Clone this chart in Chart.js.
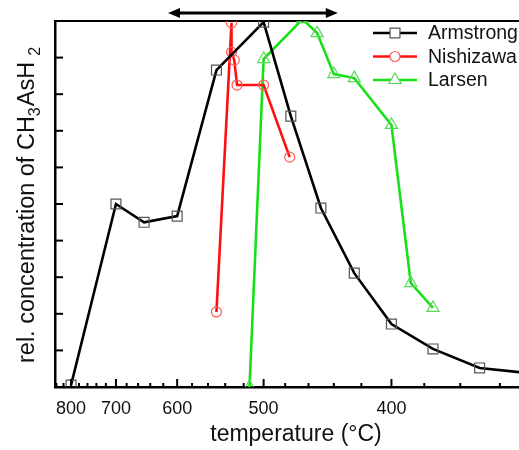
<!DOCTYPE html>
<html lang="en">
<head>
  <meta charset="UTF-8">
  <title>Relative concentration of CH3AsH2</title>
  <style>
    html, body { margin: 0; padding: 0; background: #ffffff; }
    #wrap { width: 519px; height: 450px; }
  </style>
  <script src="https://cdn.jsdelivr.net/npm/chart.js"></script>
</head>
<body>
  <div id="wrap"><canvas id="chart" width="519" height="450"></canvas></div>

  <script>
    // temperatures in °C, values in relative units (axis 0..10)
    const armstrongTemp = [800, 700, 650, 600, 550, 500, 475, 450, 425, 400, 375, 350, 325];
    const armstrongVal  = [0.05, 5.0, 4.5, 4.67, 8.66, 9.97, 7.4, 4.89, 3.11, 1.72, 1.04, 0.52, 0.37];

    const nishizawaTemp = [550, 533, 533, 530, 527, 500, 476];
    const nishizawaVal  = [2.05, 9.95, 9.15, 8.93, 8.25, 8.25, 6.28];

    const larsenTemp = [514, 500, 465, 453, 440, 425, 400, 388, 375];
    const larsenVal  = [0, 8.96, 10.05, 9.67, 8.55, 8.44, 7.16, 2.84, 2.16];

    const majorTicks = [800, 700, 600, 500, 400];
    const minorStep = 20;
    const xLeftTemp = 844;
    const xRightTemp = 331;
    const arrowTemps = [613, 437];

    // the temperature axis is linear in 1/T^2 (T in kelvin)
    function toAxis(t) { return 1e6 / Math.pow(t + 273, 2); }
    function fromAxis(u) { return Math.sqrt(1e6 / u) - 273; }

    function points(temps, vals) {
      return temps.map((t, i) => ({ x: toAxis(t), y: vals[i] }));
    }

    const series = [
      { label: 'Armstrong', temps: armstrongTemp, vals: armstrongVal, line: '#000000', mark: '#555555', style: 'rect', radius: 7 },
      { label: 'Nishizawa', temps: nishizawaTemp, vals: nishizawaVal, line: '#ff1010', mark: '#ff5a5a', style: 'circle', radius: 5 },
      { label: 'Larsen', temps: larsenTemp, vals: larsenVal, line: '#18e018', mark: '#5ad85a', style: 'triangle', radius: 7 }
    ];

    const decorations = {
      id: 'decorations',
      afterDraw(chart) {
        const ctx = chart.ctx;
        const area = chart.chartArea;
        const xs = chart.scales.x;
        const ys = chart.scales.y;
        ctx.save();
        ctx.strokeStyle = '#000';
        ctx.lineWidth = 2;

        // inward tick marks on the temperature axis
        for (let t = 840; t >= 320; t -= minorStep) {
          const px = xs.getPixelForValue(toAxis(t));
          if (px < area.left + 1 || px > area.right) continue;
          const len = t % 100 === 0 ? 8 : 4;
          ctx.beginPath();
          ctx.moveTo(px, area.bottom);
          ctx.lineTo(px, area.bottom - len);
          ctx.stroke();
        }
        // inward tick marks on the value axis
        for (let v = 1; v < 10; v++) {
          const py = ys.getPixelForValue(v);
          ctx.beginPath();
          ctx.moveTo(area.left, py);
          ctx.lineTo(area.left + 8, py);
          ctx.stroke();
        }

        // double arrow above the plot
        const ax1 = xs.getPixelForValue(toAxis(arrowTemps[0]));
        const ax2 = xs.getPixelForValue(toAxis(arrowTemps[1]));
        const ay = 13;
        ctx.lineWidth = 3;
        ctx.beginPath();
        ctx.moveTo(ax1 + 8, ay);
        ctx.lineTo(ax2 - 8, ay);
        ctx.stroke();
        ctx.fillStyle = '#000';
        ctx.beginPath();
        ctx.moveTo(ax1, ay); ctx.lineTo(ax1 + 12, ay - 5); ctx.lineTo(ax1 + 12, ay + 5); ctx.closePath();
        ctx.fill();
        ctx.beginPath();
        ctx.moveTo(ax2, ay); ctx.lineTo(ax2 - 12, ay - 5); ctx.lineTo(ax2 - 12, ay + 5); ctx.closePath();
        ctx.fill();

        // legend inside the plot, top right
        ctx.font = '19.5px "Liberation Sans", Arial, sans-serif';
        ctx.textBaseline = 'middle';
        series.forEach((s, i) => {
          const ly = 33 + i * 23.5;
          ctx.strokeStyle = s.line;
          ctx.lineWidth = 2.5;
          ctx.beginPath();
          ctx.moveTo(373, ly);
          ctx.lineTo(417, ly);
          ctx.stroke();
          ctx.fillStyle = '#ffffff';
          ctx.strokeStyle = s.mark;
          ctx.lineWidth = 1.2;
          Chart.helpers.drawPoint(ctx, {
            pointStyle: s.style, radius: s.radius, rotation: 0, borderWidth: 1.2
          }, 395, ly);
          ctx.fillStyle = '#111';
          ctx.fillText(s.label, 428, ly + 1);
        });

        // x axis title
        ctx.fillStyle = '#111';
        ctx.textBaseline = 'alphabetic';
        ctx.textAlign = 'center';
        ctx.font = '23px "Liberation Sans", Arial, sans-serif';
        ctx.fillText('temperature (°C)', 296, 441);

        // y axis title with subscripts, rotated
        ctx.translate(34, 363);
        ctx.rotate(-Math.PI / 2);
        ctx.textAlign = 'left';
        const parts = [['rel. concentration of CH', false], ['3', true], ['AsH', false], ['2', true]];
        let tx = 0;
        parts.forEach(([txt, sub]) => {
          ctx.font = (sub ? '16px' : '23.5px') + ' "Liberation Sans", Arial, sans-serif';
          if (sub && txt === '2') tx += 6;
          ctx.fillText(txt, tx, sub ? 6 : 0);
          tx += ctx.measureText(txt).width + (sub ? 1 : 0);
        });
        ctx.restore();
      }
    };

    const ctx = document.getElementById('chart').getContext('2d');
    new Chart(ctx, {
      type: 'line',
      data: {
        datasets: series.map(s => ({
          label: s.label,
          data: points(s.temps, s.vals),
          borderColor: s.line,
          borderWidth: 2.6,
          tension: 0,
          fill: false,
          pointStyle: s.style,
          pointRadius: s.radius,
          pointBorderColor: s.mark,
          pointBackgroundColor: 'rgba(0,0,0,0)',
          pointBorderWidth: 1.2
        }))
      },
      options: {
        responsive: false,
        animation: false,
        layout: { autoPadding: false, padding: { top: 21, right: 0, left: 0, bottom: 0 } },
        plugins: { legend: { display: false }, tooltip: { enabled: false } },
        scales: {
          x: {
            type: 'linear',
            position: 'bottom',
            min: toAxis(xLeftTemp),
            max: toAxis(xRightTemp),
            afterFit(scale) { scale.height = 63; },
            afterBuildTicks(scale) { scale.ticks = majorTicks.map(t => ({ value: toAxis(t) })); },
            ticks: {
              autoSkip: false,
              maxRotation: 0,
              padding: 11,
              color: '#111',
              font: { family: '"Liberation Sans", Arial, sans-serif', size: 18 },
              callback: v => Math.round(fromAxis(v))
            },
            grid: { drawOnChartArea: false, drawTicks: false },
            border: { color: '#000', width: 2.5 }
          },
          xTop: {
            type: 'linear',
            position: 'top',
            min: 0, max: 1,
            afterFit(scale) { scale.height = 0; },
            ticks: { display: false },
            grid: { drawOnChartArea: false, drawTicks: false },
            border: { color: '#000', width: 2 }
          },
          y: {
            min: 0,
            max: 10,
            afterFit(scale) { scale.width = 55; },
            ticks: { display: false, stepSize: 1 },
            grid: { drawOnChartArea: false, drawTicks: false },
            border: { color: '#000', width: 2.5 }
          }
        }
      },
      plugins: [decorations]
    });
  </script>
</body>
</html>
